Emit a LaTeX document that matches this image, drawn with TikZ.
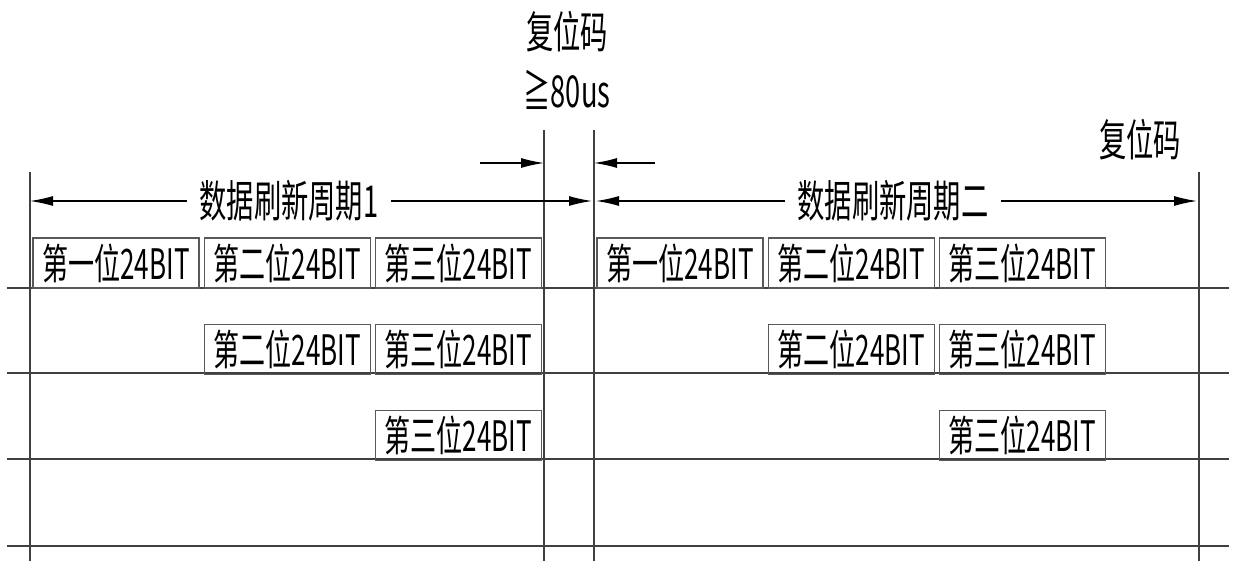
\documentclass[tikz,border=0pt]{standalone}
\usepackage{fontspec}
\newfontfamily\cjknarrow[FakeStretch=0.62]{Noto Sans CJK SC}
\usetikzlibrary{positioning}
\usetikzlibrary{arrows.meta}

\tikzset{
  gridline/.style={black!75, line width=0.6pt},
  bitbox/.style={draw=black!65, line width=0.6pt, minimum width=83pt, minimum height=25pt,
    inner sep=0pt, font=\cjknarrow\fontsize{21}{21}\selectfont},
  dimarrow/.style={-{Latex[length=11.5pt,width=5pt]}, line width=0.6pt},
  title/.style={inner xsep=6pt, inner ysep=0pt, font=\cjknarrow\fontsize{22}{22}\selectfont},
  tag/.style={inner sep=0pt, font=\cjknarrow\fontsize{22}{22}\selectfont}
}

\begin{document}
\begin{tikzpicture}[x=0.5pt,y=-0.5pt]
    \useasboundingbox (0,0) rectangle (1236,561);
    % vertical lines
    \foreach \x/\t/\n in {30/172/1, 544/130/2, 594/130/3, 1199/172/4} {
        \coordinate (v\n t) at (\x,\t);
        \coordinate (v\n b) at (\x,561);
        \draw[gridline] (v\n t) -- (v\n b);
    }
    % horizontal lines
    \foreach \y/\n in {288/1, 373/2, 459/3, 546/4} {
        \coordinate (h\n l) at (7,\y);
        \coordinate (h\n r) at (1229,\y);
        \draw[gridline] (h\n l) -- (h\n r);
    }

    \node[tag] (rst) at (567,32) {复位码};
    \node[tag] (gap) at (567,90) {≧80us};
    \node[tag] (rst2) at (1140,140) {复位码};

    % reset gap arrows
    \coordinate (ra) at (480,163);
    \coordinate (rb) at (544,163);
    \coordinate (rc) at (655,163);
    \coordinate (rd) at (594,163);
    \draw[dimarrow] (ra) -- (rb);
    \draw[dimarrow] (rc) -- (rd);

    % refresh periods
    \node[title] (per1) at (289,201) {数据刷新周期1};
    \coordinate (per1a) at (30,201);
    \coordinate (per1b) at (592,201);
    \draw[dimarrow] (per1) -- (per1a);
    \draw[dimarrow] (per1) -- (per1b);
    \node[title] (per2) at (893,201) {数据刷新周期二};
    \coordinate (per2a) at (596,201);
    \coordinate (per2b) at (1197,201);
    \draw[dimarrow] (per2) -- (per2a);
    \draw[dimarrow] (per2) -- (per2b);

    % data bits, first period
    \node[bitbox] (a1) at (116,263) {第一位24BIT};
    \node[bitbox, right=2pt of a1] (a2) {第二位24BIT};
    \node[bitbox, right=2pt of a2] (a3) {第三位24BIT};
    \node[bitbox, below=17.5pt of a2] (b2) {第二位24BIT};
    \node[bitbox, right=2pt of b2] (b3) {第三位24BIT};
    \node[bitbox, below=17.7pt of b3] (c3) {第三位24BIT};

    % data bits, second period
    \node[bitbox] (d1) at (680,263) {第一位24BIT};
    \node[bitbox, right=2pt of d1] (d2) {第二位24BIT};
    \node[bitbox, right=2pt of d2] (d3) {第三位24BIT};
    \node[bitbox, below=17.5pt of d2] (e2) {第二位24BIT};
    \node[bitbox, right=2pt of e2] (e3) {第三位24BIT};
    \node[bitbox, below=17.7pt of e3] (f3) {第三位24BIT};
\end{tikzpicture}
\end{document}
